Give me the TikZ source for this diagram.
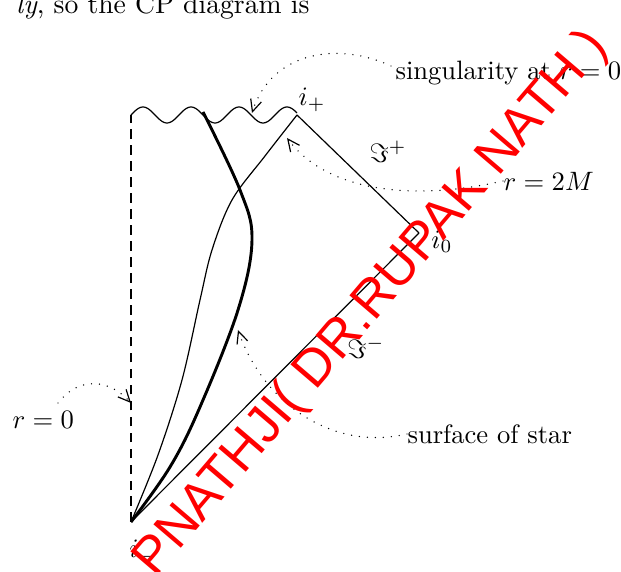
\documentclass[tikz,border=0pt]{standalone}
\usepackage{fontspec}
\newfontfamily\wmfont{Liberation Sans}
\usetikzlibrary{arrows.meta}
\begin{document}
\begin{tikzpicture}[x=0.376pt,y=-0.376pt,
  thinline/.style={line width=0.45pt},
  thickline/.style={line width=1.1pt},
  axisline/.style={line width=0.5pt, dash pattern=on 3.6pt off 2.4pt},
  pointer/.style={line width=0.55pt, line cap=round, dash pattern=on 0pt off 3pt,
     -{Straight Barb[length=4.5pt,width=4.2pt,line width=0.45pt]}},
  lbl/.style={inner sep=0pt, font=\fontsize{10}{12}\selectfont},
  wmark/.style={text=red, font=\wmfont\fontsize{19.7}{24}\selectfont, rotate=49.5, inner sep=0pt}]
\useasboundingbox (0,0) rectangle (621,572);

% page text fragment
\node[anchor=base east, inner sep=0pt, font=\fontsize{10.4}{12}\selectfont] (pagetext) at (310,14) {\textit{ly}, so the CP diagram is};

% key points
\coordinate (im) at (131,522);
\coordinate (ip) at (297,115);
\coordinate (io) at (419,233);
\coordinate (axtop) at (131,115);

% r = 0 axis
\draw[axisline] (im) -- (axtop);

% singularity (wavy)
\draw[thinline, domain=0:166, samples=120, smooth] plot ({131+\x}, {115 - 8*sin(7.5*\x)});

% null boundaries
\draw[thinline] (ip) -- (io);
\draw[thinline] (im) -- (io);

% horizon r = 2M
\draw[thinline] plot[smooth, tension=0.55] coordinates {(131,522) (158,455) (182,380) (200,300) (212,250) (232,200) (265,156) (297,115)};

% surface of star
\draw[thickline] plot[smooth, tension=0.6] coordinates {(131,522) (170,467) (200,407) (238,310) (252,240) (240,190) (203,112)};

% labels
\node[lbl] (lip) at (312,100) {$i_+$};
\node[lbl] (lio) at (442,242) {$i_0$};
\node[lbl] (lim) at (143,552) {$i_-$};
\node[lbl] (scrp) at (388,152) {$\Im^+$};
\node[lbl] (scrm) at (366,348) {$\Im^-$};
\node[lbl, anchor=west] (sing) at (395,73) {singularity at $r=0$};
\node[lbl, anchor=west] (rtwo) at (503,181) {$r=2M$};
\node[lbl, anchor=west] (rzero) at (12,420) {$r=0$};
\node[lbl, anchor=west] (surf) at (407,434) {surface of star};

% pointer targets
\coordinate (tsing) at (252,113);
\coordinate (ssing) at (391,66);
\coordinate (ttwo) at (287,138);
\coordinate (tsurf) at (238,330);
\coordinate (tzero) at (131,403);
\coordinate (szero) at (58,403);

\draw[pointer] (ssing) .. controls (340,42) and (272,50) .. (tsing);
\draw[pointer] (rtwo.west) .. controls (420,200) and (330,195) .. (ttwo);
\draw[pointer] (surf.west) .. controls (330,452) and (262,400) .. (tsurf);
\draw[pointer] (szero) .. controls (80,375) and (110,380) .. (tzero);

% watermark
\node[wmark] (wm) at (372,304) {PNATHJI( DR.RUPAK NATH )};
\end{tikzpicture}
\end{document}
